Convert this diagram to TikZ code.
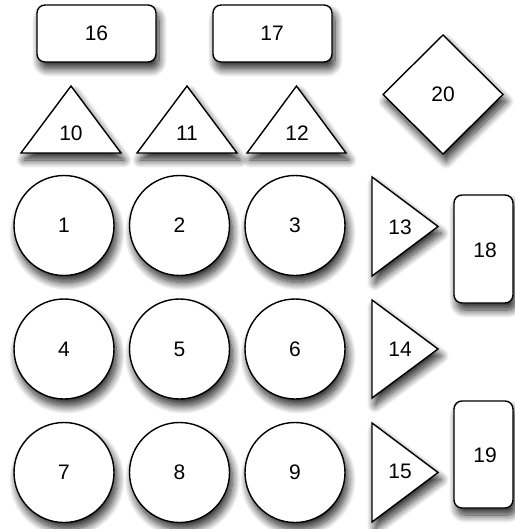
\documentclass[tikz,border=0pt]{standalone}
\usepackage{fontspec}
\setmainfont{Liberation Sans}
\usetikzlibrary{shadows.blur}
\tikzset{
  shp/.style={draw=black, fill=white, line width=1.4pt, line join=miter,
    blur shadow={shadow xshift=3pt, shadow yshift=-7pt, shadow blur radius=8pt, shadow blur steps=14, shadow opacity=85}},
  lbl/.style={inner sep=0pt, font=\fontsize{21}{22}\selectfont}
}
\begin{document}
\begin{tikzpicture}[x=1pt,y=-1pt]
\useasboundingbox (0,0) rectangle (514,529);
% rounded rectangles
\draw[shp, rounded corners=8pt] (37,5) rectangle (156,62);
\draw[shp, rounded corners=8pt] (213,5) rectangle (332,62);
\draw[shp, rounded corners=8pt] (454,195) rectangle (513,303);
\draw[shp, rounded corners=8pt] (454,401) rectangle (513,508);
% diamond
\draw[shp] (443,35) -- (503,94.5) -- (443,154) -- (383,94.5) -- cycle;
% up triangles
\draw[shp] (21,153) -- (71,86) -- (121,153) -- cycle;
\draw[shp] (137,153) -- (187,86) -- (237,153) -- cycle;
\draw[shp] (247,153) -- (296.5,86) -- (346,153) -- cycle;
% right triangles
\draw[shp] (372,177) -- (438,226.5) -- (372,276) -- cycle;
\draw[shp] (372,300) -- (438,349) -- (372,398) -- cycle;
\draw[shp] (372,423) -- (438,472.5) -- (372,522) -- cycle;
% circles
\foreach \x in {64,179.5,295}
  \foreach \y in {225.5,349,472.5}
    \draw[shp] (\x,\y) circle[radius=50];
% labels
\node[lbl] (n1) at (64,225.5) {1};
\node[lbl] (n2) at (179.5,225.5) {2};
\node[lbl] (n3) at (295,225.5) {3};
\node[lbl] (n4) at (64,349) {4};
\node[lbl] (n5) at (179.5,349) {5};
\node[lbl] (n6) at (295,349) {6};
\node[lbl] (n7) at (64,472.5) {7};
\node[lbl] (n8) at (179.5,472.5) {8};
\node[lbl] (n9) at (295,472.5) {9};
\node[lbl] (n10) at (71,133) {10};
\node[lbl] (n11) at (187,133) {11};
\node[lbl] (n12) at (297,133) {12};
\node[lbl] (n13) at (400,227) {13};
\node[lbl] (n14) at (400,349) {14};
\node[lbl] (n15) at (400,471) {15};
\node[lbl] (n16) at (96.5,33) {16};
\node[lbl] (n17) at (272,33) {17};
\node[lbl] (n18) at (485,250) {18};
\node[lbl] (n19) at (485,455) {19};
\node[lbl] (n20) at (443,94) {20};
\end{tikzpicture}
\end{document}
